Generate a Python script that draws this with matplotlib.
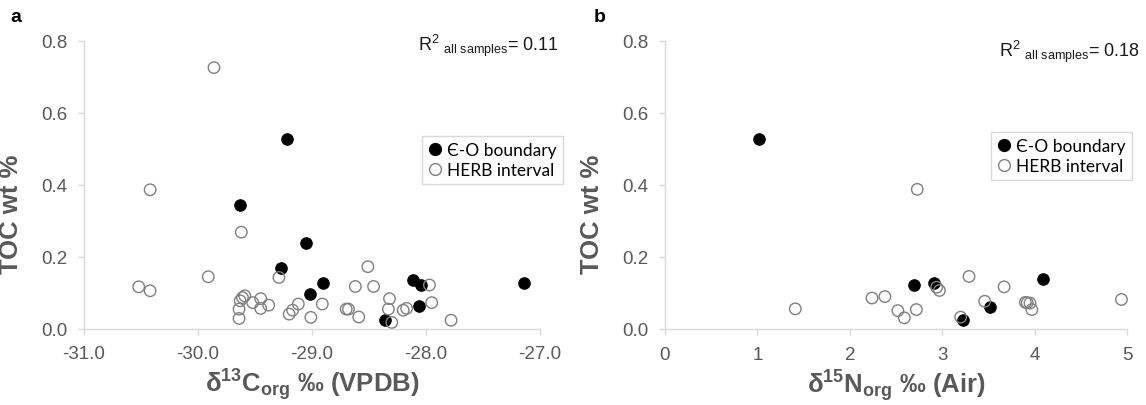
import matplotlib
matplotlib.use("Agg")
import matplotlib.pyplot as plt
from matplotlib.lines import Line2D

plt.rcParams['font.family'] = ['Liberation Sans', 'DejaVu Sans']
plt.rcParams['mathtext.fontset'] = 'custom'
plt.rcParams['mathtext.rm'] = 'Liberation Sans'
plt.rcParams['mathtext.it'] = 'Liberation Sans:italic'
plt.rcParams['mathtext.bf'] = 'Liberation Sans:bold'
plt.rcParams['axes.unicode_minus'] = False

# --- data ---
# panel a: d13C_org vs TOC
c13_eo = [-29.22, -29.63, -29.05, -29.27, -28.90, -29.02, -28.36, -28.11, -28.04, -28.06, -27.14]
toc_eo_a = [0.527, 0.343, 0.239, 0.167, 0.128, 0.097, 0.024, 0.135, 0.121, 0.063, 0.128]

c13_herb = [-29.86, -30.42, -29.62, -29.91, -30.52, -30.42, -29.29, -28.51, -28.62, -28.46,
            -27.97, -27.95, -27.78, -28.32, -28.33, -28.30, -28.20, -28.17, -28.70, -28.68,
            -28.59, -28.91, -29.01, -29.12, -29.17, -29.20, -29.64, -29.64, -29.63, -29.61,
            -29.59, -29.52, -29.45, -29.45, -29.38]
toc_herb_a = [0.726, 0.386, 0.268, 0.144, 0.116, 0.105, 0.142, 0.172, 0.117, 0.117,
              0.121, 0.072, 0.023, 0.083, 0.054, 0.017, 0.051, 0.056, 0.054, 0.054,
              0.032, 0.068, 0.031, 0.068, 0.051, 0.040, 0.028, 0.054, 0.077, 0.086,
              0.091, 0.072, 0.083, 0.056, 0.065]

# panel b: d15N_org vs TOC
n15_eo = [1.02, 2.69, 2.91, 3.22, 3.52, 4.09]
toc_eo_b = [0.527, 0.123, 0.128, 0.025, 0.061, 0.138]

n15_herb = [2.73, 1.41, 2.24, 2.38, 2.52, 2.59, 2.72, 2.94, 2.97, 3.29,
            3.20, 3.46, 3.67, 3.90, 3.92, 3.95, 3.97, 4.94]
toc_herb_b = [0.388, 0.056, 0.086, 0.090, 0.051, 0.031, 0.054, 0.116, 0.107, 0.146,
              0.033, 0.077, 0.117, 0.074, 0.073, 0.072, 0.054, 0.082]

yticks = [0.0, 0.2, 0.4, 0.6, 0.8]
xticks_a = [-31.0, -30.0, -29.0, -28.0, -27.0]
xticks_b = [0, 1, 2, 3, 4, 5]

r2_a = 0.11
r2_b = 0.18
legend_labels = ['\u0404-O boundary', 'HERB interval']

W, H = 1146, 406
fig = plt.figure(figsize=(W / 100, H / 100), dpi=100)

gray_txt = '#595959'
spine_c = '#d9d9d9'
open_c = '#808080'


def style_axes(ax):
    for s in ['top', 'right']:
        ax.spines[s].set_visible(False)
    for s in ['left', 'bottom']:
        ax.spines[s].set_color(spine_c)
        ax.spines[s].set_linewidth(1.0)
    ax.tick_params(axis='both', colors=spine_c, labelcolor=gray_txt, labelsize=13.5,
                   length=4, width=1.0)
    ax.tick_params(axis='y', pad=8)
    ax.tick_params(axis='x', pad=8)
    ax.set_ylim(0, 0.8)
    ax.set_yticks(yticks)
    ax.set_yticklabels([f'{v:.1f}' for v in yticks])
    ax.set_ylabel('TOC wt %', fontsize=18.5, fontweight='bold', color=gray_txt)
    ax.yaxis.set_label_coords(-0.133, 0.40)


def add_legend(ax, anchor):
    handles = [Line2D([], [], marker='o', ls='none', markersize=8.5,
                      markerfacecolor='black', markeredgecolor='black'),
               Line2D([], [], marker='o', ls='none', markersize=8.5,
                      markerfacecolor='white', markeredgecolor=open_c, markeredgewidth=1.0)]
    leg = ax.legend(handles, legend_labels, loc='upper right', bbox_to_anchor=anchor,
                    frameon=True, fancybox=False, edgecolor=spine_c, framealpha=1,
                    prop={'family': ['Lato', 'DejaVu Sans'], 'size': 12.5},
                    handlelength=0.8, handletextpad=0.3, labelspacing=0.25,
                    borderpad=0.35, borderaxespad=0)
    leg.get_frame().set_linewidth(1.0)


# panel a
axa = fig.add_axes([84 / W, 1 - 329.5 / H, 456 / W, 287.5 / H])
axa.scatter(c13_eo, toc_eo_a, s=68, facecolor='black', edgecolor='black', lw=0.8,
            zorder=3, clip_on=False)
axa.scatter(c13_herb, toc_herb_a, s=68, facecolor='none', edgecolor=open_c, lw=1.0,
            zorder=4, clip_on=False)
axa.set_xlim(-31, -27)
axa.set_xticks(xticks_a)
axa.set_xticklabels([f'{v:.1f}' for v in xticks_a])
style_axes(axa)
axa.set_xlabel(r'δ$^{\mathbf{13}}$C$_{\mathbf{org}}$ ‰ (VPDB)', fontsize=18.5,
               fontweight='bold', color=gray_txt, labelpad=3)
add_legend(axa, (1.05, 0.67))

# panel b
axb = fig.add_axes([665 / W, 1 - 330 / H, 462 / W, 288 / H])
axb.scatter(n15_eo, toc_eo_b, s=68, facecolor='black', edgecolor='black', lw=0.8,
            zorder=3, clip_on=False)
axb.scatter(n15_herb, toc_herb_b, s=68, facecolor='none', edgecolor=open_c, lw=1.0,
            zorder=4, clip_on=False)
axb.set_xlim(0, 5)
axb.set_xticks(xticks_b)
style_axes(axb)
axb.set_xlabel(r'δ$^{\mathbf{15}}$N$_{\mathbf{org}}$ ‰ (Air)', fontsize=18.5,
               fontweight='bold', color=gray_txt, labelpad=3)
add_legend(axb, (1.01, 0.685))

# R^2 annotations
fig.text(559 / W, 1 - 46 / H, r'R$^{2}$ $_{\mathrm{all\ samples}}$= ' + f'{r2_a:.2f}',
         ha='right', va='center', fontsize=13, color='#1a1a1a')
fig.text(1140 / W, 1 - 52 / H, r'R$^{2}$ $_{\mathrm{all\ samples}}$= ' + f'{r2_b:.2f}',
         ha='right', va='center', fontsize=13, color='#1a1a1a')

# panel letters
fig.text(10 / W, 1 - 18 / H, 'a', fontsize=14, fontweight='bold', color='black', va='center')
fig.text(594 / W, 1 - 18 / H, 'b', fontsize=14, fontweight='bold', color='black', va='center')

fig.savefig('out.png', dpi=100, facecolor='white')
